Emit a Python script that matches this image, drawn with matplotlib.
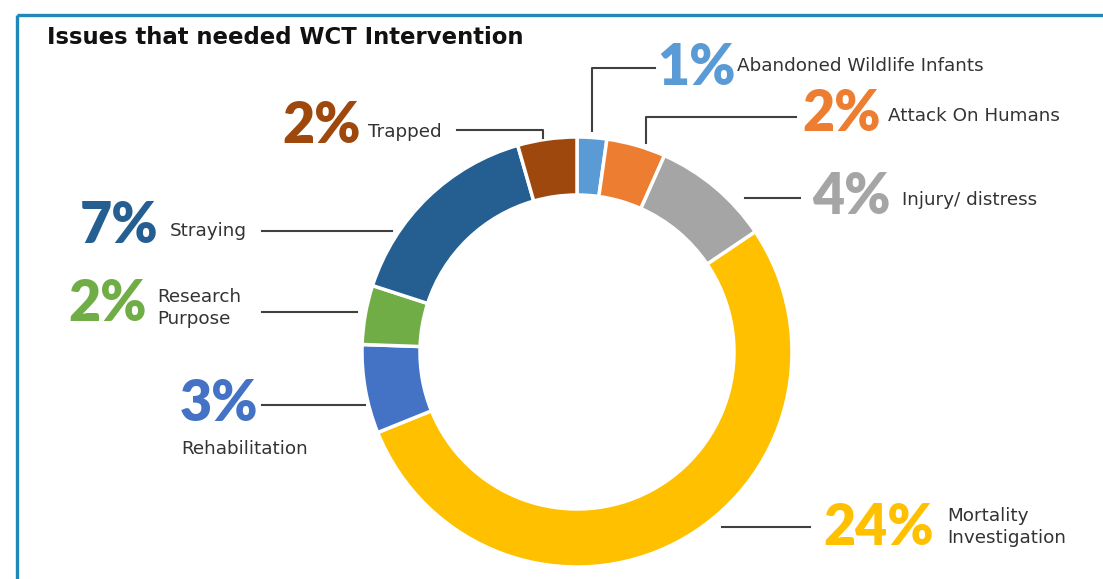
import matplotlib
matplotlib.use("Agg")
import matplotlib.pyplot as plt

# ---------------------------------------------------------------------------
# Data
# ---------------------------------------------------------------------------
categories = [
    "Abandoned Wildlife Infants", "Attack On Humans", "Injury/ distress",
    "Mortality\nInvestigation", "Rehabilitation", "Research\nPurpose",
    "Straying", "Trapped",
]
percents = [1, 2, 4, 24, 3, 2, 7, 2]
colors = ["#5B9BD5", "#ED7D31", "#A5A5A5", "#FFC000",
          "#4472C4", "#70AD47", "#255E91", "#9E480E"]

W, H = 1103, 579
TEXT = "#333333"
LINE = "#404040"


def Y(y):
    # pixel row (top = 0) -> data y
    return H - y


fig = plt.figure(figsize=(W / 100, H / 100), dpi=100)
ax = fig.add_axes([0, 0, 1, 1])

# donut
cx, cy, r = 577, 352, 215
ax.pie(
    percents, colors=colors, startangle=90, counterclock=False,
    center=(cx, Y(cy)), radius=r,
    wedgeprops=dict(width=58, edgecolor="white", linewidth=2.5),
)

# frame lines (top and left)
border = "#1F88B8"
ax.plot([17, W], [Y(15), Y(15)], color=border, lw=2.4, solid_capstyle="butt")
ax.plot([17, 17], [Y(15), 0], color=border, lw=2.4, solid_capstyle="butt")

ax.text(47, Y(37), "Issues that needed WCT Intervention", fontsize=16.4,
        fontweight="bold", color="#111111", va="center", ha="left")

# leader lines, pixel coords
leaders = [
    [(592, 131), (592, 68), (655, 68)],
    [(646, 143), (646, 117), (796, 117)],
    [(745, 198), (800, 198)],
    [(722, 527), (810, 527)],
    [(262, 405), (365, 405)],
    [(262, 312), (357, 312)],
    [(262, 231), (392, 231)],
    [(457, 130), (543, 130), (543, 138)],
]
for pts in leaders:
    ax.plot([p[0] for p in pts], [Y(p[1]) for p in pts], color=LINE, lw=1.5)

# label positions: (pct x, pct y, pct ha, name x, name y, name ha)
label_pos = [
    (657, 68, "left", 737, 66, "left"),
    (802, 114, "left", 888, 116, "left"),
    (812, 197, "left", 902, 200, "left"),
    (823, 528, "left", 947, 527, "left"),
    (258, 404, "right", 181, 449, "left"),
    (147, 304, "right", 157, 308, "left"),
    (158, 226, "right", 170, 231, "left"),
    (361, 126, "right", 368, 132, "left"),
]
for name, pct, col, (px, py, pha, nx, ny, nha) in zip(categories, percents, colors, label_pos):
    ax.text(px, Y(py), f"{pct}%", fontsize=40, fontweight="heavy", family="Lato",
            color=col, ha=pha, va="center")
    ax.text(nx, Y(ny), name, fontsize=13.2, color=TEXT, ha=nha, va="center",
            linespacing=1.3)

ax.set_xlim(0, W)
ax.set_ylim(0, H)
ax.set_aspect("equal")
ax.axis("off")

fig.savefig("out.png", dpi=100, facecolor="white")
